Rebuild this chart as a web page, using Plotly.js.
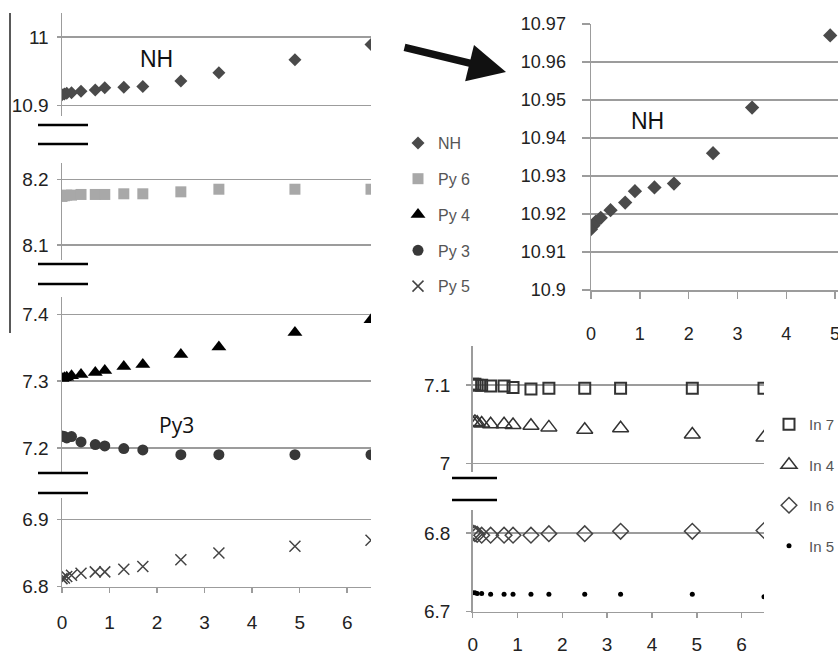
<!DOCTYPE html>
<html><head><meta charset="utf-8">
<script src="https://cdn.plot.ly/plotly-3.0.1.min.js"></script>
<style>html,body{margin:0;padding:0;background:#fff}#chart{width:838px;height:655px}</style>
</head><body><div id="chart"></div>
<script>
// ---- data ----
const xTime = [0, 0.05, 0.1, 0.2, 0.4, 0.7, 0.9, 1.3, 1.7, 2.5, 3.3, 4.9, 6.5];
const NH  = [10.916, 10.917, 10.918, 10.919, 10.921, 10.923, 10.926, 10.927, 10.928, 10.936, 10.948, 10.967, 10.989];
const Py6 = [8.174, 8.175, 8.176, 8.176, 8.177, 8.177, 8.177, 8.178, 8.178, 8.181, 8.185, 8.185, 8.185];
const Py4 = [7.304, 7.305, 7.306, 7.308, 7.310, 7.313, 7.316, 7.322, 7.325, 7.340, 7.351, 7.373, 7.392];
const Py3 = [7.218, 7.217, 7.215, 7.217, 7.209, 7.205, 7.203, 7.199, 7.197, 7.190, 7.190, 7.190, 7.190];
const Py5 = [6.812, 6.813, 6.815, 6.817, 6.820, 6.822, 6.822, 6.826, 6.830, 6.840, 6.850, 6.860, 6.869];
const In7 = [7.101, 7.101, 7.100, 7.100, 7.099, 7.099, 7.097, 7.095, 7.096, 7.096, 7.096, 7.096, 7.096];
const In4 = [7.052, 7.053, 7.052, 7.051, 7.050, 7.050, 7.049, 7.048, 7.046, 7.043, 7.045, 7.037, 7.033];
const In6 = [6.800, 6.799, 6.798, 6.797, 6.797, 6.797, 6.797, 6.797, 6.799, 6.799, 6.802, 6.802, 6.803];
const In5 = [6.724, 6.724, 6.723, 6.723, 6.722, 6.722, 6.722, 6.722, 6.722, 6.722, 6.722, 6.722, 6.719];

const xTicksLeft = [0, 1, 2, 3, 4, 5, 6];
const xTicksZoom = [0, 1, 2, 3, 4, 5];
const yTicksNH = [10.9, 11];           const yLabNH = ['10.9', '11'];
const yTicksPy6 = [8.1, 8.2];          const yLabPy6 = ['8.1', '8.2'];
const yTicksPy43 = [7.2, 7.3, 7.4];    const yLabPy43 = ['7.2', '7.3', '7.4'];
const yTicksPy5 = [6.8, 6.9];          const yLabPy5 = ['6.8', '6.9'];
const yTicksZoom = [10.9, 10.91, 10.92, 10.93, 10.94, 10.95, 10.96, 10.97];
const yLabZoom = ['10.9', '10.91', '10.92', '10.93', '10.94', '10.95', '10.96', '10.97'];
const yTicksInHi = [7, 7.1];           const yLabInHi = ['7', '7.1'];
const yTicksInLo = [6.7, 6.8];         const yLabInLo = ['6.7', '6.8'];

// ---- layout helpers ----
const W = 838, H = 655;
const fx = p => p / W;
const fy = p => 1 - p / H;
const FONT = 'Liberation Sans, Arial, sans-serif';
const GRID = '#9c9c9c';
const base = {
  showgrid: true, gridcolor: GRID, gridwidth: 1.5, zeroline: false,
  showline: true, linecolor: GRID, linewidth: 1.5,
  ticks: 'outside', tickcolor: GRID, tickwidth: 1.5,
  automargin: false, fixedrange: true, ticklabeloverflow: 'allow'
};
function yax(dom, rng, tv, tt, anchor, fs, tl, so) {
  return Object.assign({}, base, {
    domain: [fy(dom[1]), fy(dom[0])], range: rng, anchor: anchor,
    tickmode: 'array', tickvals: tv, ticktext: tt, ticklen: tl,
    ticklabelstandoff: so,
    tickfont: {family: FONT, size: fs, color: '#222'}
  });
}
function xax(dom, rng, tv, anchor, fs, tl, so) {
  return Object.assign({}, base, {
    showgrid: false,
    domain: [fx(dom[0]), fx(dom[1])], range: rng, anchor: anchor,
    tickmode: 'array', tickvals: tv, ticklen: tl, ticklabelstandoff: so,
    tickfont: {family: FONT, size: fs, color: '#222'}
  });
}

const traces = [
  {x: xTime, y: NH, name: 'NH', xaxis: 'x', yaxis: 'y', mode: 'markers', legendgroup: 'a',
   marker: {symbol: 'diamond', size: 10, color: '#4a4a4a'}},
  {x: xTime, y: Py6, name: 'Py 6', xaxis: 'x', yaxis: 'y2', mode: 'markers', legendgroup: 'b',
   marker: {symbol: 'square', size: 11, color: '#a8a8a8'}},
  {x: xTime, y: Py4, name: 'Py 4', xaxis: 'x', yaxis: 'y3', mode: 'markers', legendgroup: 'c',
   marker: {symbol: 'triangle-up', size: 13, color: '#000'}},
  {x: xTime, y: Py3, name: 'Py 3', xaxis: 'x', yaxis: 'y3', mode: 'markers', legendgroup: 'd',
   marker: {symbol: 'circle', size: 11, color: '#383838'}},
  {x: xTime, y: Py5, name: 'Py 5', xaxis: 'x', yaxis: 'y4', mode: 'markers', legendgroup: 'e',
   marker: {symbol: 'x-thin', size: 11, color: '#444', line: {width: 1.5, color: '#444'}}},
  // zoomed NH
  {x: xTime, y: NH, name: 'NH', xaxis: 'x2', yaxis: 'y5', mode: 'markers', showlegend: false,
   marker: {symbol: 'diamond', size: 11, color: '#4a4a4a'}},
  // In series
  {x: xTime, y: In7, name: 'In 7', xaxis: 'x3', yaxis: 'y6', mode: 'markers', legend: 'legend2', legendgroup: 'f',
   marker: {symbol: 'square-open', size: 11, color: '#333', line: {width: 2}}},
  {x: xTime, y: In4, name: 'In 4', xaxis: 'x3', yaxis: 'y6', mode: 'markers', legend: 'legend2', legendgroup: 'g',
   marker: {symbol: 'triangle-up-open', size: 14, color: '#333', line: {width: 1.5}}},
  {x: xTime, y: In6, name: 'In 6', xaxis: 'x3', yaxis: 'y7', mode: 'markers', legend: 'legend2', legendgroup: 'h',
   marker: {symbol: 'diamond-open', size: 12, color: '#444', line: {width: 1.5}}},
  {x: xTime, y: In5, name: 'In 5', xaxis: 'x3', yaxis: 'y7', mode: 'markers', legend: 'legend2', legendgroup: 'i',
   marker: {symbol: 'circle', size: 5, color: '#000'}}
];

const brk = (x0, x1, y) => ({type: 'line', xref: 'paper', yref: 'paper',
  x0: fx(x0), x1: fx(x1), y0: fy(y), y1: fy(y), line: {color: '#000', width: 2.5}});

const layout = {
  width: W, height: H,
  margin: {l: 0, r: 0, t: 0, b: 0, pad: 0, autoexpand: false},
  paper_bgcolor: '#fff', plot_bgcolor: 'rgba(0,0,0,0)',
  font: {family: FONT, color: '#222'},
  xaxis:  xax([62, 371], [0, 6.5], xTicksLeft, 'y4', 19, 5, 13),
  yaxis:  yax([13, 116], [10.885, 11.035], yTicksNH, yLabNH, 'x', 19, 4, 4),
  yaxis2: yax([163, 260], [8.077, 8.225], yTicksPy6, yLabPy6, 'x', 19, 4, 4),
  yaxis3: yax([297, 472], [7.164, 7.426], yTicksPy43, yLabPy43, 'x', 19, 4, 4),
  yaxis4: yax([498, 586.7], [6.8, 6.9316], yTicksPy5, yLabPy5, 'x', 19, 4, 4),
  xaxis2: xax([591, 838], [0, 5.06], xTicksZoom, 'y5', 18, 7, 20),
  yaxis5: yax([24, 290], [10.9, 10.97], yTicksZoom, yLabZoom, 'x2', 18, 8, 12),
  xaxis3: xax([472.7, 764], [0, 6.5], xTicksLeft, 'y7', 19, 5, 10),
  yaxis6: yax([346, 472], [6.989, 7.15], yTicksInHi, yLabInHi, 'x3', 19, 5, 12),
  yaxis7: yax([510, 611.7], [6.7, 6.829], yTicksInLo, yLabInLo, 'x3', 19, 5, 12),
  showlegend: true,
  legend: {x: fx(398), y: fy(126), xanchor: 'left', yanchor: 'top', bgcolor: 'rgba(0,0,0,0)',
    font: {family: FONT, size: 16, color: '#555'}, itemsizing: 'trace', tracegroupgap: 12, itemwidth: 30},
  legend2: {x: fx(769), y: fy(408), xanchor: 'left', yanchor: 'top', bgcolor: 'rgba(0,0,0,0)',
    font: {family: FONT, size: 15, color: '#555'}, itemsizing: 'trace', tracegroupgap: 18, itemwidth: 30},
  shapes: [
    {type: 'line', xref: 'paper', yref: 'paper', x0: fx(10), x1: fx(10), y0: fy(13), y1: fy(333),
     line: {color: '#222', width: 1.5}},
    brk(38, 88, 125), brk(38, 88, 144),
    brk(38, 88, 264), brk(38, 88, 284),
    brk(38, 88, 473), brk(38, 88, 493),
    brk(452, 497, 478), brk(452, 497, 500)
  ],
  annotations: [
    {xref: 'paper', yref: 'paper', x: fx(156), y: fy(59), xanchor: 'center', yanchor: 'middle',
     text: 'NH', showarrow: false, font: {family: FONT, size: 23, color: '#111'}},
    {xref: 'paper', yref: 'paper', x: fx(176), y: fy(425), xanchor: 'center', yanchor: 'middle',
     text: 'Py3', showarrow: false, font: {family: 'Open Sans, Liberation Sans, sans-serif', size: 21, color: '#111'}},
    {xref: 'paper', yref: 'paper', x: fx(647), y: fy(121), xanchor: 'center', yanchor: 'middle',
     text: 'NH', showarrow: false, font: {family: FONT, size: 23, color: '#111'}},
    {xref: 'paper', yref: 'paper', x: fx(506), y: fy(72), text: '', showarrow: true,
     arrowhead: 2, arrowwidth: 7.5, arrowsize: 1, arrowcolor: '#111', ax: -103, ay: -25, standoff: 0}
  ]
};

Plotly.newPlot('chart', traces, layout, {displayModeBar: false, staticPlot: true});
</script>
</body></html>
